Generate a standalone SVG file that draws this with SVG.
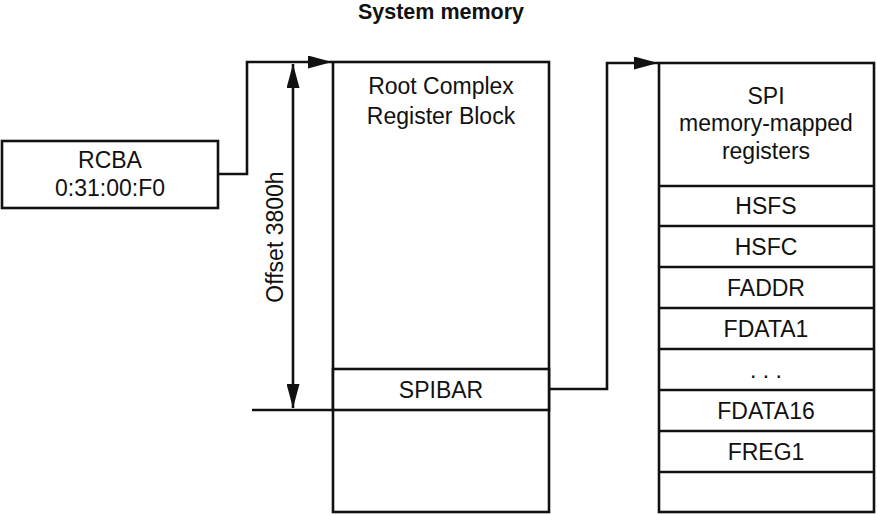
<svg xmlns="http://www.w3.org/2000/svg" width="877" height="515" viewBox="0 0 877 515">
<style>
.box{fill:#fff;stroke:#111;stroke-width:2.6}
.ln{fill:none;stroke:#111;stroke-width:2.6}
.t{font-family:"Liberation Sans",Arial,sans-serif;font-size:23px;fill:#111;text-anchor:middle}
.title{font-family:"Liberation Sans",Arial,sans-serif;font-size:21.5px;font-weight:bold;fill:#111;text-anchor:middle}
</style>
<defs>
<marker id="ah" viewBox="0 0 24 13" refX="24" refY="6.5" markerWidth="24" markerHeight="13" markerUnits="userSpaceOnUse" orient="auto-start-reverse">
<path d="M0,0 L24,6.5 L0,13 Z" fill="#111"/>
</marker>
</defs>
<text class="title" x="441" y="19">System memory</text>
<g id="rcba">
<rect class="box" x="2" y="141" width="216" height="67"/>
<text class="t" x="110" y="168">RCBA</text>
<text class="t" x="110" y="196">0:31:00:F0</text>
</g>
<g id="root-complex">
<rect class="box" x="333" y="62" width="216" height="450"/>
<text class="t" x="441" y="94">Root Complex</text>
<text class="t" x="441" y="124">Register Block</text>
<rect class="box" x="333" y="369" width="216" height="41"/>
<text class="t" x="441" y="398">SPIBAR</text>
</g>
<g id="spi">
<rect class="box" x="659" y="63" width="215" height="449"/>
<text class="t" x="766" y="104">SPI</text>
<text class="t" x="766" y="131">memory-mapped</text>
<text class="t" x="766" y="159">registers</text>
<g class="ln">
<line x1="659" y1="186" x2="874" y2="186"/>
<line x1="659" y1="226" x2="874" y2="226"/>
<line x1="659" y1="267" x2="874" y2="267"/>
<line x1="659" y1="308" x2="874" y2="308"/>
<line x1="659" y1="349" x2="874" y2="349"/>
<line x1="659" y1="390" x2="874" y2="390"/>
<line x1="659" y1="431" x2="874" y2="431"/>
<line x1="659" y1="472" x2="874" y2="472"/>
</g>
<text class="t" x="766" y="214">HSFS</text>
<text class="t" x="766" y="255">HSFC</text>
<text class="t" x="766" y="296">FADDR</text>
<text class="t" x="766" y="337">FDATA1</text>
<text class="t" x="766" y="378">. . .</text>
<text class="t" x="766" y="419">FDATA16</text>
<text class="t" x="766" y="460">FREG1</text>
</g>
<g id="offset">
<line class="ln" x1="252" y1="410" x2="333" y2="410"/>
<line class="ln" x1="293" y1="64" x2="293" y2="408" marker-start="url(#ah)" marker-end="url(#ah)"/>
<text class="t" transform="translate(283,237) rotate(-90)" x="0" y="0">Offset 3800h</text>
</g>
<g id="connectors">
<polyline class="ln" points="218,174 247,174 247,62 332,62" marker-end="url(#ah)"/>
<polyline class="ln" points="549,389 607,389 607,63 658,63" marker-end="url(#ah)"/>
</g>
</svg>
